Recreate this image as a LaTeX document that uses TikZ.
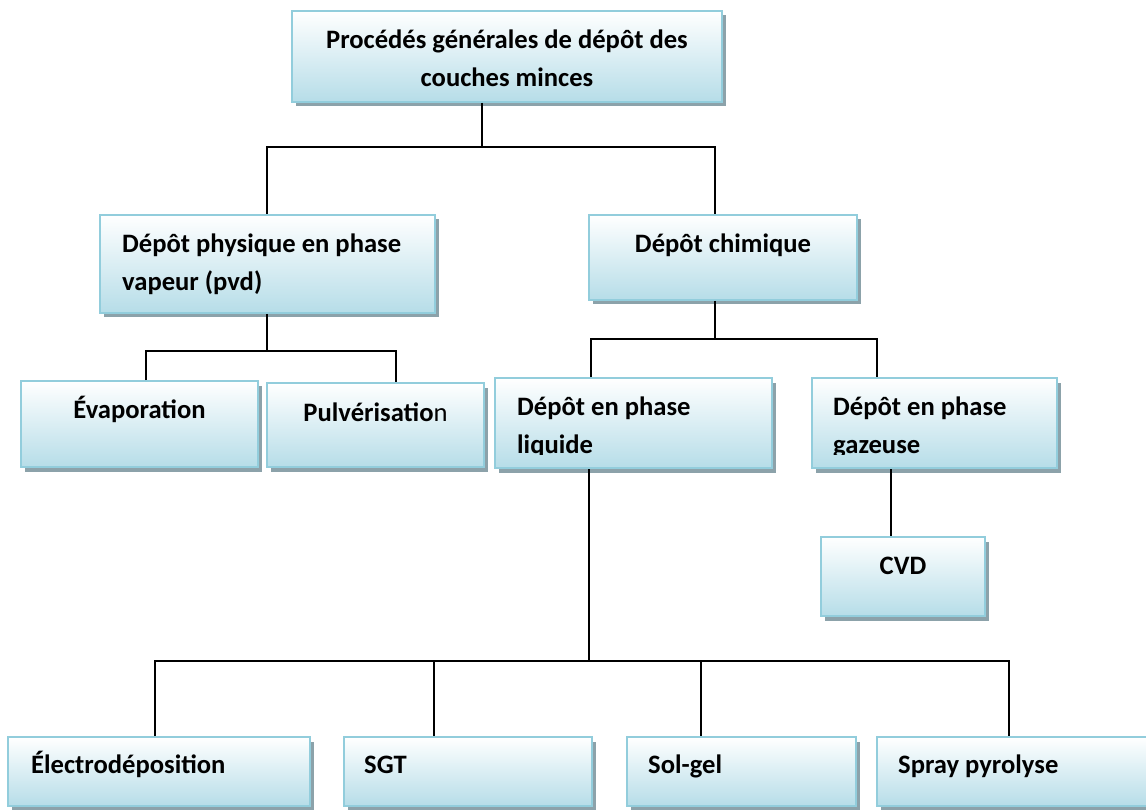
\documentclass[tikz,border=0pt]{standalone}
\usepackage{fontspec}
\setmainfont{Carlito}
\usetikzlibrary{shadows}
\definecolor{bordercol}{RGB}{146,205,220}
\definecolor{boxblue}{RGB}{182,221,232}
\definecolor{boxmid}{RGB}{228,242,247}
\definecolor{shadowcol}{RGB}{140,162,170}
\begin{document}
\begin{tikzpicture}[x=1pt,y=-1pt,
  boxnode/.style={rectangle, inner sep=0pt, draw=bordercol, line width=2pt,
    top color=white, middle color=boxmid, bottom color=boxblue,
    drop shadow={shadow xshift=3.5pt, shadow yshift=-4.5pt, fill=shadowcol, opacity=1}},
  lbl/.style={inner sep=0pt, font=\fontsize{26.6}{38}\selectfont\bfseries, text=black},
  conn/.style={line width=1.4pt, black}]
\useasboundingbox (0,0) rectangle (1146,810);
% boxes
\node[boxnode, minimum width=430pt, minimum height=91pt] (top) at (507,56.5) {};
\node[boxnode, minimum width=335pt, minimum height=98pt] (pvd) at (267.5,264) {};
\node[boxnode, minimum width=268pt, minimum height=85pt] (chim) at (723,257.5) {};
\node[boxnode, minimum width=237pt, minimum height=86pt] (evap) at (139.5,424) {};
\node[boxnode, minimum width=217pt, minimum height=84pt] (pulv) at (375.5,425) {};
\node[boxnode, minimum width=277pt, minimum height=90pt] (liq) at (633.5,423) {};
\node[boxnode, minimum width=245pt, minimum height=90pt] (gaz) at (934.5,423) {};
\node[boxnode, minimum width=164pt, minimum height=79pt] (cvd) at (903,576.5) {};
\node[boxnode, minimum width=302pt, minimum height=69pt] (elec) at (159,771.5) {};
\node[boxnode, minimum width=248pt, minimum height=69pt] (sgt) at (468,771.5) {};
\node[boxnode, minimum width=229pt, minimum height=69pt] (solgel) at (741.5,771.5) {};
\node[boxnode, minimum width=275pt, minimum height=69pt] (spray) at (1014.5,771.5) {};
% texts
\node[lbl, anchor=north, align=center] (ttop) at (507,21.4) {\strut Procédés générales de dépôt des\\couches minces};
\node[lbl, anchor=north west, align=left] (tpvd) at (122,225.4) {\strut Dépôt physique en phase\\vapeur (pvd)};
\node[lbl, anchor=north] (tchim) at (723,225.4) {\strut Dépôt chimique};
\node[lbl, anchor=north] (tevap) at (139.5,391.4) {\strut Évaporation};
\node[lbl, anchor=north] (tpulv) at (375.5,394.4) {\strut Pulvérisatio{\mdseries n}};
\begin{scope}
\clip (480,370) rectangle (1070,454);
\node[lbl, anchor=north west, align=left] (tliq) at (517,388.4) {\strut Dépôt en phase\\liquide};
\node[lbl, anchor=north west, align=left] (tgaz) at (833,388.4) {\strut Dépôt en phase\\gazeuse};
\end{scope}
\node[lbl, anchor=north] (tcvd) at (903,547.4) {\strut CVD};
\node[lbl, anchor=north west] (telec) at (31,746.4) {\strut Électrodéposition};
\node[lbl, anchor=north west] (tsgt) at (364,746.4) {\strut SGT};
\node[lbl, anchor=north west] (tsol) at (648,746.4) {\strut Sol-gel};
\node[lbl, anchor=north west] (tspray) at (898,746.4) {\strut Spray pyrolyse};
% junction coordinates
\coordinate (jA) at (482,147);
\coordinate (jAL) at (267,147);
\coordinate (jAR) at (715,147);
\coordinate (jB) at (267,351);
\coordinate (jBL) at (146,351);
\coordinate (jBR) at (396,351);
\coordinate (jC) at (715,339);
\coordinate (jCL) at (591,339);
\coordinate (jCR) at (877,339);
\coordinate (jG) at (891,500);
\coordinate (jD) at (589,661);
\coordinate (jD1) at (155,661);
\coordinate (jD2) at (434,661);
\coordinate (jD3) at (701,661);
\coordinate (jD4) at (1009,661);
% connectors
\draw[conn] (top.south -| jA) -- (jA);
\draw[conn] (pvd.north -| jAL) -- (jAL) -- (jAR) -- (chim.north -| jAR);
\draw[conn] (pvd.south -| jB) -- (jB);
\draw[conn] (evap.north -| jBL) -- (jBL) -- (jBR) -- (pulv.north -| jBR);
\draw[conn] (chim.south -| jC) -- (jC);
\draw[conn] (liq.north -| jCL) -- (jCL) -- (jCR) -- (gaz.north -| jCR);
\draw[conn] (gaz.south -| jG) -- (cvd.north -| jG);
\draw[conn] (liq.south -| jD) -- (jD);
\draw[conn] (elec.north -| jD1) -- (jD1) -- (jD4) -- (spray.north -| jD4);
\draw[conn] (jD2) -- (sgt.north -| jD2);
\draw[conn] (jD3) -- (solgel.north -| jD3);
\end{tikzpicture}
\end{document}
